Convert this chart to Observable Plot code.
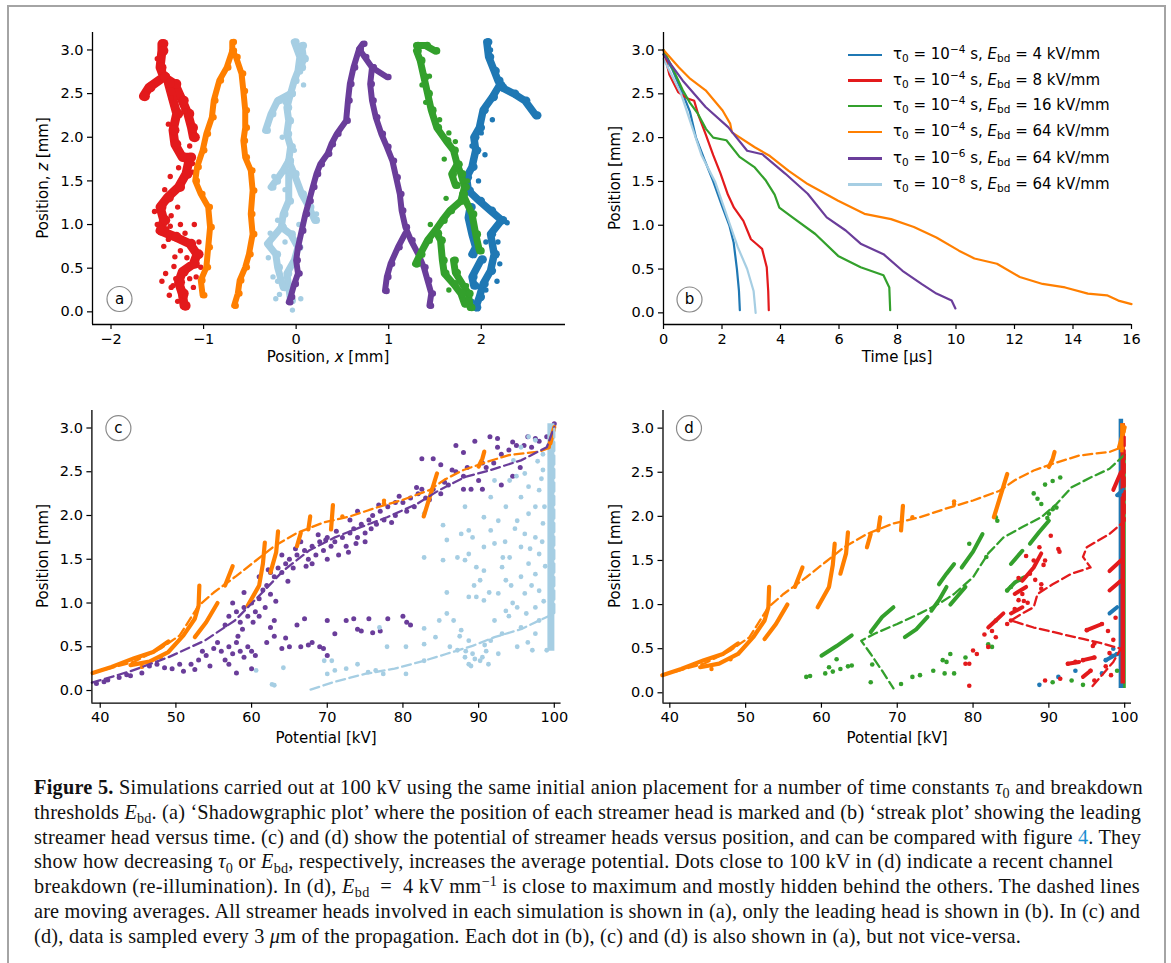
<!DOCTYPE html>
<html><head><meta charset="utf-8">
<script src="https://cdn.jsdelivr.net/npm/d3@7"></script>
<script src="https://cdn.jsdelivr.net/npm/@observablehq/plot@0.6"></script>
<style>
body{margin:0;background:#fff;}
#fig{position:relative;width:1171px;height:963px;background:#fff;overflow:hidden;}
#frame{position:absolute;left:7px;top:5px;width:1159px;height:980px;border:2px solid #a4a4a4;box-sizing:border-box;}
.panel{position:absolute;}
.lab{position:absolute;font-family:"DejaVu Sans",sans-serif;font-size:15px;white-space:nowrap;line-height:18px;}
.sw{position:absolute;width:34px;height:2.6px;}
.lt{position:absolute;left:893px;font-family:"DejaVu Sans",sans-serif;font-size:15px;white-space:nowrap;line-height:20px;}
.lt sub,.lt sup,.cap sub,.cap sup{font-size:70%;line-height:0;position:relative;vertical-align:baseline;}
.lt sub{top:0.3em;} .lt sup{top:-0.55em;}
.cap{position:absolute;left:34px;font-family:"Liberation Serif",serif;font-size:20.3px;white-space:nowrap;line-height:24px;color:#111;}
.cap sub{top:0.3em;} .cap sup{top:-0.5em;}
.blue{color:#1a8fd0;}
</style></head>
<body><div id="fig"><div id="frame"></div></div>
<script>
// ---------- colours (ColorBrewer Paired) ----------
const C = {blue:"#1f78b4", red:"#e31a1c", green:"#33a02c", orange:"#ff7f00", purple:"#6a3d9a", lblue:"#a6cee3"};

// ---------- panel (a): streamer trees, branches of [x mm, z mm] ----------
const aLightBlue = [
  [[-0.02,3.09],[0.04,2.92],[0.02,2.76],[-0.02,2.65],[-0.06,2.5],[-0.1,2.34],[-0.08,2.19],[-0.1,2.04],[-0.06,1.89],[-0.08,1.73],[-0.14,1.62],[-0.22,1.5],[-0.27,1.43]],
  [[0.06,3.05],[0.08,2.9],[0.05,2.8]],
  [[-0.06,2.5],[-0.2,2.42],[-0.27,2.27],[-0.33,2.08]],
  [[-0.08,1.73],[-0.02,1.58],[0.06,1.35],[0.14,1.2],[0.2,1.05]],
  [[-0.08,1.6],[-0.08,1.27],[-0.14,1.12],[-0.16,0.97],[-0.06,0.89],[0.02,0.74],[-0.02,0.59],[-0.1,0.44],[-0.08,0.28],[-0.06,0.13]],
  [[-0.16,0.97],[-0.31,0.78],[-0.22,0.66],[-0.2,0.51],[-0.14,0.28]]
];
const aLightBlueDots = [[-0.04,0.02],[-0.22,0.15],[-0.3,0.62],[-0.25,0.4],[0.1,1.3],[-0.24,1.55],[-0.3,2.15],[0.05,0.15],[-0.18,0.2],[0.22,1.12],[-0.12,0.8],[-0.2,1.05],[0.03,1.0],[-0.12,1.4],[-0.02,1.85],[-0.15,2.0],[0.08,2.6],[-0.12,2.4],[-0.28,0.9],[-0.2,0.35]];
const aRed = [
  [[-1.45,3.07],[-1.45,2.99],[-1.47,2.8],[-1.43,2.69],[-1.59,2.57],[-1.65,2.47]],
  [[-1.43,2.69],[-1.31,2.61],[-1.23,2.42],[-1.17,2.27],[-1.13,2.11],[-1.11,2.0]],
  [[-1.38,2.62],[-1.29,2.27],[-1.33,2.08],[-1.31,1.92],[-1.23,1.77],[-1.15,1.77],[-1.19,1.58],[-1.27,1.43],[-1.39,1.31],[-1.47,1.2],[-1.43,1.05],[-1.47,0.93],[-1.31,0.86],[-1.15,0.78],[-1.07,0.66],[-1.11,0.55],[-1.23,0.46],[-1.27,0.34],[-1.23,0.21],[-1.21,0.07]]
];
const aRedDots = [[-1.41,0.44],[-1.35,0.28],[-1.37,0.19],[-1.11,0.28],[-1.03,0.51],[-1.31,0.63],[-1.43,0.75],[-1.5,1.0],[-1.35,1.1],[-1.25,1.0],[-1.2,0.9],[-1.1,1.0],[-1.36,1.55],[-1.12,1.6],[-1.15,1.9],[-1.38,2.15],[-1.2,2.3],[-1.3,0.38],[-1.15,0.38],[-1.45,0.35],[-1.28,0.12],[-1.05,0.8],[-1.18,0.62],[-1.38,0.83],[-1.53,1.15],[-1.42,1.4],[-1.32,0.52],[-1.2,0.18],[-1.4,0.95],[-1.28,1.2],[-1.33,0.3],[-1.18,0.48],[-1.08,0.4],[-1.25,0.7],[-1.36,0.98],[-1.12,1.7],[-1.27,1.65],[-1.35,2.45],[-1.5,2.9]];
const aOrange = [
  [[-0.69,3.09],[-0.69,2.99],[-0.75,2.8],[-0.83,2.65],[-0.89,2.42],[-0.91,2.23],[-0.97,2.04],[-1.01,1.85],[-1.07,1.66],[-1.09,1.5],[-1.03,1.35],[-0.95,1.2],[-0.93,0.97],[-0.95,0.74],[-0.97,0.51],[-1.03,0.36],[-1.01,0.19]],
  [[-0.69,2.99],[-0.65,2.92],[-0.59,2.73],[-0.57,2.53],[-0.55,2.31],[-0.55,2.11],[-0.57,1.96],[-0.55,1.77],[-0.49,1.62],[-0.47,1.39],[-0.49,1.12],[-0.47,0.89],[-0.51,0.66],[-0.55,0.51],[-0.61,0.36],[-0.63,0.21],[-0.67,0.07]]
];
const aPurple = [
  [[0.72,3.07],[0.68,3.01],[0.62,2.8],[0.58,2.61],[0.56,2.42],[0.54,2.19],[0.44,2.04],[0.38,1.92],[0.34,1.81],[0.26,1.69],[0.22,1.58],[0.18,1.43],[0.14,1.27],[0.1,1.12],[0.06,0.93],[0.02,0.74],[0.0,0.59],[0.02,0.44],[-0.02,0.32],[-0.06,0.17],[-0.08,0.11]],
  [[0.68,3.01],[0.74,2.92],[0.82,2.8],[0.98,2.69]],
  [[0.82,2.8],[0.8,2.61],[0.82,2.42],[0.86,2.23],[0.92,2.04],[0.98,1.89],[1.04,1.73],[1.08,1.54],[1.12,1.35],[1.14,1.16],[1.18,0.97],[1.24,0.82],[1.32,0.66],[1.38,0.51],[1.42,0.36],[1.46,0.21],[1.44,0.07]],
  [[1.18,0.9],[1.1,0.74],[1.02,0.55],[0.98,0.4],[0.96,0.24]]
];
const aGreen = [
  [[1.3,3.05],[1.4,3.05],[1.5,2.99]],
  [[1.3,2.99],[1.34,2.88],[1.38,2.69],[1.42,2.5],[1.46,2.31],[1.52,2.11],[1.62,1.96],[1.7,1.85],[1.74,1.69],[1.78,1.58],[1.82,1.43],[1.78,1.27],[1.66,1.16],[1.58,1.05],[1.5,0.93],[1.42,0.82],[1.34,0.66],[1.29,0.55]],
  [[1.8,1.35],[1.9,1.12],[1.94,0.89],[1.98,0.7]],
  [[1.52,0.9],[1.56,0.82],[1.58,0.59],[1.6,0.44],[1.7,0.32],[1.78,0.21],[1.82,0.09]],
  [[1.7,0.59],[1.72,0.45],[1.86,0.21],[1.88,0.05]],
  [[1.74,1.69],[1.68,1.58],[1.72,1.45]]
];
const aGreenDots = [[1.36,2.6],[1.44,2.7],[1.4,2.4],[1.55,2.2],[1.65,2.05],[1.72,1.95],[1.6,1.75],[1.85,1.5],[1.62,1.3],[1.45,1.0],[1.75,0.45],[1.65,0.25],[1.84,0.3]];
const aBlue = [
  [[2.06,3.09],[2.08,2.92],[2.14,2.76],[2.18,2.65],[2.22,2.57],[2.35,2.5],[2.47,2.42],[2.59,2.25]],
  [[2.2,2.6],[2.12,2.46],[2.02,2.31],[1.98,2.11],[1.92,2.0],[1.94,1.85],[1.9,1.66],[1.84,1.54],[1.86,1.39],[1.98,1.27],[2.1,1.16],[2.22,1.05],[2.1,0.89],[2.14,0.66],[2.1,0.47],[2.02,0.32],[1.98,0.17],[1.94,0.05]],
  [[1.88,1.2],[1.86,1.08],[1.9,0.89],[1.94,0.74],[1.9,0.66]],
  [[2.0,0.6],[1.9,0.4],[1.92,0.3]]
];
const aBlueDots = [[2.0,2.05],[1.9,1.9],[2.04,1.8],[1.97,1.5],[2.18,0.8],[2.05,0.8],[2.2,0.55],[2.05,0.25],[1.9,0.12],[2.17,0.35],[2.28,1.02],[2.12,2.2],[2.1,3.0]];

// ---------- panel (b): leading head, [time µs, z mm] ----------
const bBlue   = [[0,2.95],[0.3,2.78],[0.66,2.5],[0.9,2.3],[1.11,2.0],[1.4,1.75],[1.7,1.5],[2.0,1.22],[2.25,1.0],[2.4,0.8],[2.51,0.5],[2.58,0.25],[2.61,0.03]];
const bRed    = [[0,3.0],[0.2,2.72],[0.5,2.52],[0.8,2.45],[1.05,2.42],[1.2,2.25],[1.44,2.04],[1.7,1.8],[1.95,1.59],[2.2,1.35],[2.41,1.2],[2.73,1.05],[2.99,0.84],[3.2,0.78],[3.37,0.73],[3.53,0.52],[3.58,0.25],[3.6,0.03]];
const bGreen  = [[0,3.0],[0.3,2.8],[0.66,2.54],[0.9,2.4],[1.18,2.27],[1.45,2.1],[1.7,2.0],[2.15,1.97],[2.6,1.78],[3.12,1.66],[3.5,1.51],[3.8,1.35],[3.96,1.2],[4.41,1.09],[5.19,0.9],[5.97,0.65],[6.74,0.52],[7.52,0.43],[7.72,0.29],[7.75,0.03]];
const bOrange = [[0,3.0],[0.53,2.8],[0.92,2.67],[1.44,2.54],[2.02,2.31],[2.28,2.16],[2.34,2.06],[3.12,1.89],[3.64,1.79],[4.28,1.62],[4.93,1.47],[5.97,1.28],[6.87,1.13],[7.78,1.07],[8.56,0.98],[9.33,0.86],[10.1,0.71],[10.63,0.62],[11.4,0.56],[12.18,0.41],[12.96,0.33],[13.73,0.29],[14.51,0.22],[15.16,0.2],[15.55,0.14],[16.0,0.1]];
const bPurple = [[0,2.95],[0.66,2.65],[1.44,2.35],[2.21,2.12],[2.86,1.85],[3.38,1.81],[4.16,1.59],[4.93,1.36],[5.58,1.09],[6.23,0.94],[6.74,0.79],[7.52,0.67],[8.17,0.48],[8.82,0.33],[9.33,0.22],[9.85,0.14],[9.98,0.05]];
const bLightBlue = [[0,2.9],[0.3,2.7],[0.6,2.5],[1.0,2.1],[1.3,1.8],[1.76,1.5],[2.05,1.22],[2.28,1.0],[2.54,0.75],[2.86,0.5],[3.08,0.25],[3.15,0.0]];
const legendLabels = [
  ["−4","4"],["−4","8"],["−4","16"],["−4","64"],["−6","64"],["−8","64"]
];

// ---------- panels (c),(d): potential kV vs position mm ----------
const orangeStreaks = [
  [[39,0.2],[41.5,0.27],[44.5,0.37],[47,0.44],[49,0.56]],
  [[44,0.29],[46.5,0.33],[49,0.44],[51,0.63],[52.5,0.82],[53,0.97],[53.1,1.2]],
  [[52.5,0.61],[54,0.78],[55.5,1.0]],
  [[56.5,1.2],[57.5,1.42]],
  [[59.5,0.97],[61,1.2],[61.5,1.45],[61.75,1.69]],
  [[62.5,1.35],[63.25,1.58],[63.5,1.82]],
  [[66,1.65],[66.5,1.8]],
  [[67.5,1.84],[67.75,1.99]],
  [[70.5,1.84],[70.75,2.12]],
  [[82.75,1.99],[84.5,2.48]],
  [[90,2.56],[90.5,2.65],[90.75,2.73]],
  [[99.25,2.78],[100,3.01]]
];
const orangeDots = [[72,1.99],[77.5,2.14],[77.5,2.17],[45.5,0.27],[48,0.38]];
const orangeAvg = [[39,0.2],[44.5,0.33],[48,0.48],[50.5,0.63],[53,0.97],[55,1.12],[58,1.31],[60.5,1.48],[63,1.65],[66,1.8],[69.5,1.92],[73,1.99],[76.5,2.09],[80,2.18],[83.5,2.29],[85.5,2.41],[88,2.52],[91,2.61],[94,2.69],[98,2.73],[99.5,2.78],[100,2.97]];

const cPurpleDots = [
  [39.5,0.08],[40.5,0.1],[41,0.12],[42.5,0.15],[43.5,0.18],[44,0.17],[45.5,0.2],[46.5,0.28],[47.5,0.3],[48.5,0.26],[49.5,0.25],[50.5,0.3],[51,0.22],[52,0.3],[52.5,0.24],[53,0.35],[53.5,0.45],[54,0.4],[55,0.48],[55.5,0.55],[56,0.45],[57,0.5],[57.5,0.42],[58,0.55],[58.5,0.45],[59,0.38],[59.5,0.5],[60,0.45],[60.5,0.4],[54.5,0.28],[56.5,0.35],[58.2,0.62],
  [56.5,0.75],[57,0.85],[58,0.9],[58.5,0.78],[59,0.95],[59.5,0.85],[60,1.0],[60.5,0.9],[61,1.05],[61.5,1.15],[62,1.2],[62.5,1.1],[63,1.3],[63.5,1.4],[64,1.35],[64.5,1.45],[65,1.5],[65.5,1.4],[66,1.55],[67,1.6],[67.5,1.5],[68,1.65],[68.5,1.55],[69,1.7],[69.5,1.6],[70,1.5],[70.5,1.65],[71,1.7],[72,1.75],[72.5,1.65],[73,1.8],[73.5,1.85],[74,1.75],[74.5,1.9],[75,1.8],[75.5,1.95],[76,2.0],[76.5,1.9],[77,2.05],[78,2.1],[79,2.0],[80,2.15],[81,2.2],[81.5,2.1],[82,2.25],[83,2.2],[84,2.3],[85,2.25],[86,2.35],[87,2.5],[88,2.45],[89,2.3],[90,2.4],[91,2.55],[92,2.6],[93,2.7],[94,2.75],[95,2.8],[96,2.8],[97,2.78],[98,2.85],[99,2.9],[100,3.05],
  [57.5,1.0],[59,1.12],[61,1.3],[62.5,1.35],[64,1.55],[66.5,1.7],[68,1.45],[70,1.75],[71.5,1.55],[73,1.95],[74,2.05],[75,1.7],[77.5,1.95],[79,2.15],[80.5,2.05],[82.5,2.3],
  [58.8,0.7],[60.2,0.78],[61.8,0.95],[63.2,1.02],[62.2,1.38],[64.8,1.25],[65.8,1.62],[67.2,1.42],[68.8,1.78],[69.8,1.72],[71.2,1.82],[72.8,1.58],[73.8,1.68],[75.8,1.85],[76.8,2.12],[78.5,1.92],[79.5,2.22],[81.8,2.32],[83.5,2.18],[85.5,2.38],[86.5,2.52],[88.5,2.55],[90.5,2.6],[92.5,2.78],[94.5,2.84],[96.5,2.9],[97.5,2.88],
  [82.5,2.65],[84,2.65],[85,2.58],[87,2.8],[88,2.72],[89.5,2.85],[91.5,2.9],[92.5,2.88],[90.5,2.3],[93,2.35],[88,2.3],[95.5,2.55],[94.5,2.45],
  [61,0.85],[62.5,0.72],[63,0.8],[64.5,0.6],[66,0.75],[67,0.82],[68,0.55],[69,0.5],[70,0.8],[71,0.65],[72.5,0.8],[73.5,0.82],[74,0.7],[75.5,0.82],[76,0.66],[77,0.68],[78,0.82],[80,0.85],[81,0.75],[65,0.5],[66.5,0.5],[69.5,0.48],[70,0.4],[62,0.55],[64,0.48],[60,0.25],[57,0.3],[58,0.2],[63,0.62],[67.5,0.52],[74.5,0.68],[80.5,0.78]
];
const cPurpleAvg = [[38.9,0.09],[44,0.22],[49,0.38],[53.8,0.57],[57.8,0.8],[61.2,1.1],[64.2,1.37],[67.6,1.6],[71,1.75],[74.5,1.87],[77.9,1.98],[81.8,2.13],[84.8,2.29],[88.2,2.44],[91.6,2.52],[95.6,2.63],[99,2.78],[100,3.01]];
const cLightBlueDots = [
  [62.7,0.07],[63,0.06],[60.6,0.23],[64.2,0.26],[70,0.19],[71,0.23],[72.5,0.25],[74,0.3],[75.4,0.21],[76.4,0.23],[77.4,0.19],[80.4,0.19],[69.6,0.34],[70.6,0.34],
  [77.9,0.5],[80.4,0.5],[76.9,0.72],[82.8,0.34],[82.8,0.53],[82.8,0.71],[84.3,0.61],[84.8,0.8],[85.8,1.12],[85.3,1.49],[82.8,1.52],[85.3,1.89],[82.8,2.02],[85.8,1.72],
  [86.2,0.5],[87.2,0.46],[88.2,0.38],[88.7,0.3],[89.2,0.42],[90.2,0.34],[88.7,0.57],[87.7,0.69],[86.7,0.8],[85.8,0.88],[89,0.28],[90.5,0.38],[91,0.45],
  [87.7,1.79],[88.7,1.83],[89.2,1.75],[88.2,2.1],[88.7,1.07],[89.7,1.07],[90.7,1.03],[90.2,1.26],[90.7,1.37],[88.2,1.49],[88.7,1.56],[87.2,1.52],[89.7,1.41],
  [90.7,1.64],[90.7,1.98],[91.6,1.83],[92.1,1.68],[91.6,2.21],[92.1,2.4],
  [92.1,0.8],[91.6,0.57],[92.6,0.42],[93.1,0.65],[93.6,0.91],[92.6,1.11],[93.6,1.26],[93.1,1.41],[94.1,1.52],[92.6,1.94],[93.6,2.1],[94.1,2.4],[94.6,2.63],
  [95.1,0.5],[95.6,0.72],[95.1,0.95],[96.1,1.11],[95.6,1.3],[96.6,1.45],[95.6,1.64],[96.1,1.79],[95.1,1.94],[96.6,2.02],[95.6,2.21],[96.6,2.33],[96.1,2.48],[95.6,2.78],
  [97.1,0.46],[97.5,0.65],[98,0.8],[97.5,0.95],[98,1.14],[97.5,1.33],[98,1.56],[97.5,1.75],[98.5,1.91],[97.5,2.1],[98,2.29],[98.5,2.52],[97.5,2.86],[99,0.46],[96.6,2.9],
  [94,0.85],[94.5,1.0],[96.5,0.55],[93.5,1.7],[94.8,1.85],[97,1.2],[96.8,1.62],[98.5,2.7],[95,2.45],
  [89.5,0.36],[88.3,0.45],[90.8,0.52],[91.3,0.3],[87.5,0.62],[98.6,1.02],[98.8,1.42],[98.4,1.7],[98.7,2.1],[98.3,2.42],[97.8,2.62],[96.3,0.88],[94.3,1.2],[93.2,1.52],[91.4,1.12],[89.4,1.2]
];
const cLightBlueAvg = [[67.8,0.01],[71,0.1],[75,0.19],[78.9,0.25],[82.8,0.34],[85.8,0.42],[89.2,0.51],[92.1,0.61],[95.6,0.7],[98,0.8],[100,0.88],[100,3.0]];
// dense columns of dots at ~100 kV: [kV, z from, z to, colour]
const cColumns = [[99.55,0.45,3.05,"lblue"]];

const dGreenDots = [
  [58,0.18],[58.5,0.19],[60.5,0.22],[61.5,0.24],[62.5,0.27],[63.5,0.3],[64,0.31],[61,0.29],[62,0.38],
  [66.5,0.12],[70.5,0.1],[72,0.18],[73,0.2],[74.75,0.25],[76.25,0.22],[77.5,0.22],[76,0.37],[77,0.44],[79,0.4],[82,0.55],[82.5,0.52],[83,0.82],[84.5,1.16],[90.5,0.12],[93,0.14],[94.5,0.09],[99,0.25],[66.7,0.32],[76.5,0.35],
  [83,1.99],[83.2,1.95],[88,2.26],[88.5,2.2],[89,2.14],[89.5,2.36],[90.5,2.4],[91.5,2.44],[90,2.03],[90.5,2.08],[91,2.1],[89.8,1.98],[81.75,1.54],[79.5,1.69],[85,1.2],[86.2,1.28]
];
const dGreenStreaks = [
  [[60,0.42],[62,0.53],[64,0.65]],
  [[66.5,0.69],[68,0.86],[69.5,0.97]],
  [[71,0.63],[72.5,0.72],[74,0.86]],
  [[75.5,1.23],[76.5,1.35],[77.5,1.46]],
  [[74.5,0.93],[75.5,1.05],[76.5,1.2]],
  [[77,1.0],[78,1.1],[79,1.2]],
  [[78.5,1.42],[80,1.6],[81.25,1.8]],
  [[84.5,1.16],[85.5,1.25],[86.75,1.31]],
  [[85,1.46],[86.5,1.61]],
  [[87.5,1.69],[88.7,1.82],[90,1.95]]
];
const dGreenAvg = [[100,2.7],[98,2.54],[95.5,2.44],[93,2.33],[91,2.14],[89,1.99],[86.5,1.88],[84,1.76],[82,1.58],[80,1.31],[77.5,1.12],[75.5,1.01],[73,0.9],[70,0.78],[67,0.67],[65.25,0.59],[66.5,0.44],[68,0.25],[69.5,0.05]];
const dRedDots = [
  [79.5,0.08],[79,0.33],[79.5,0.33],[80,0.48],[80.5,0.44],[82,0.52],[83,0.63],[85,0.82],[86,1.05],[86.7,1.04],[87.5,1.35],[88.75,1.65],[89,1.23],[89,1.18],[90.25,1.78],[91.25,1.63],[91.4,1.6],[89.5,1.5],
  [92.5,0.33],[93.5,0.35],[91.5,0.16],[89.5,0.14],[95.5,0.25],[96,0.14],[95,0.71],[96,0.56],[95.8,0.53],[94.5,0.37],[96,0.4],[97,0.78],[97.5,0.3],[98,0.45],
  [81.5,0.66],[82.5,0.7],[84.5,0.78],[85.5,0.95],[86.5,1.12],[87.2,1.02],[88.2,1.28],[87,1.55],[88,1.5],[89.3,1.45],[86,1.3],[98.5,0.6],[97.8,0.7],[98.8,0.85],[98.2,0.2]
];
const dRedStreaks = [
  [[82,0.74],[83,0.82],[84,0.9]],
  [[85,0.9],[86.5,0.97]],
  [[85.5,1.12],[87,1.2]],
  [[86.5,1.27],[88,1.42],[89,1.58]],
  [[92.5,0.33],[94,0.35]],
  [[94.5,0.37],[96,0.4]],
  [[95,0.71],[97,0.78]],
  [[94.5,0.18],[95.5,0.25]],
  [[98,1.16],[99.5,1.27]],
  [[98,1.38],[99.5,1.5]],
  [[98.5,2.3],[99.5,2.5]]
];
const dRedAvg = [[100,2.9],[100,1.95],[98,1.8],[95,1.65],[94.5,1.54],[95.5,1.42],[93,1.35],[90.5,1.23],[88.5,1.12],[88,0.97],[86.5,0.9],[85,0.82],[88,0.74],[91.5,0.67],[94.5,0.61],[97,0.56],[99.5,0.5],[98.5,0.35],[97,0.2],[95.5,0.05]];
const dBlueDots = [[88.75,0.09],[91.25,0.18],[93.5,0.25],[97,0.22],[97.5,0.37],[98.3,0.42],[98.5,0.5],[99,0.44],[99.3,2.24]];
const dBlueStreaks = [
  [[98,0.9],[99,0.97]],
  [[97.5,0.37],[99,0.44]],
  [[99,2.24],[99.8,2.3]]
];
const dColumns = [[99.85,0.05,2.7,"green"],[99.5,0.05,3.1,"blue"],[99.75,0.1,3.05,"red"],[99.7,2.72,3.05,"orange"]];

// ---------- helpers ----------
const rows = (arr) => arr.map(([x, y]) => ({x, y}));
const branchRows = (branches) => branches.flatMap((b, i) => b.map(([x, y]) => ({x, y, k: i})));
const minus = (d) => (d < 0 ? "\u2212" + Math.abs(d) : String(d));
const f1 = d3.format(".1f");
const yTicks = [0, 0.5, 1, 1.5, 2, 2.5, 3];

function makePanel(o) {
  const marks = [
    ...o.marks,
    Plot.ruleX([o.xd[0]], {stroke: "#000", strokeWidth: 1.3}),
    Plot.ruleY([o.yd[0]], {stroke: "#000", strokeWidth: 1.3}),
    Plot.axisX({ticks: o.xt, tickFormat: minus, tickSize: 5, tickPadding: 4, label: null, strokeWidth: 1.2}),
    Plot.axisY({ticks: yTicks, tickFormat: f1, tickSize: 5, tickPadding: 4, label: null, strokeWidth: 1.2}),
    Plot.dot([o.letter], {frameAnchor: o.anchor, dx: o.dx, dy: o.dy, r: 12.5, stroke: "#8a8a8a", strokeWidth: 1.2, fill: "none"}),
    Plot.text([o.letter], {frameAnchor: o.anchor, dx: o.dx, dy: o.dy, text: (d) => d, fontSize: 15, textAnchor: "middle", lineAnchor: "middle"})
  ];
  const svg = Plot.plot({
    width: o.w, height: o.h,
    marginLeft: o.ml, marginRight: o.mr, marginTop: o.mt, marginBottom: o.mb,
    style: {fontFamily: "DejaVu Sans, sans-serif", fontSize: "14.5px", color: "#000", background: "transparent", overflow: "visible"},
    x: {domain: o.xd}, y: {domain: o.yd},
    marks
  });
  svg.classList.add("panel");
  svg.style.left = o.left + "px";
  svg.style.top = o.top + "px";
  document.getElementById("fig").appendChild(svg);
}
function label(html, cx, cy, rot) {
  const d = document.createElement("div");
  d.className = "lab";
  d.innerHTML = html;
  d.style.left = cx + "px"; d.style.top = cy + "px";
  d.style.transform = "translate(-50%,-50%)" + (rot ? " rotate(-90deg)" : "");
  document.getElementById("fig").appendChild(d);
}

const stream = (br, color, w) => [
  Plot.line(branchRows(br), {x: "x", y: "y", z: "k", stroke: color, strokeWidth: w, strokeLinecap: "round", strokeLinejoin: "round"}),
  Plot.dot(branchRows(br), {x: "x", y: "y", r: w * 0.55, fill: color, dx: 1.5})
];
const scatter = (arr, color, r = 2.1) => Plot.dot(rows(arr), {x: "x", y: "y", r, fill: color});
const dashed = (arr, color) => Plot.line(rows(arr), {x: "x", y: "y", stroke: color, strokeWidth: 2.3, strokeDasharray: "9,4.5"});
const columns = (arr, w) => Plot.ruleX(arr.map(([x, y1, y2, c]) => ({x, y1, y2, c})), {x: "x", y1: "y1", y2: "y2", stroke: (d) => C[d.c], strokeWidth: w});

// ---------- (a) ----------
makePanel({
  left: 0, top: 0, w: 580, h: 370, ml: 92, mr: 15, mt: 32, mb: 46,
  xd: [-2.2, 2.91], yd: [-0.145, 3.2], xt: [-2, -1, 0, 1, 2],
  letter: "a", anchor: "bottom-left", dx: 27, dy: -25.5,
  marks: [
    ...stream(aLightBlue, C.lblue, 7), scatter(aLightBlueDots, C.lblue, 2.7),
    ...stream(aRed, C.red, 9), scatter(aRedDots, C.red, 2.7),
    ...stream(aOrange, C.orange, 6),
    ...stream(aPurple, C.purple, 6),
    ...stream(aBlue, C.blue, 7.5), scatter(aBlueDots, C.blue, 2.7),
    ...stream(aGreen, C.green, 7), scatter(aGreenDots, C.green, 2.7)
  ]
});
label("Position, <i>x</i> [mm]", 328, 357, false);
label("Position, <i>z</i> [mm]", 42.5, 178, true);

// ---------- (b) ----------
const bSeries = [[bBlue, C.blue], [bRed, C.red], [bGreen, C.green], [bOrange, C.orange], [bPurple, C.purple], [bLightBlue, C.lblue]];
makePanel({
  left: 580, top: 0, w: 580, h: 370, ml: 83, mr: 29, mt: 32, mb: 46,
  xd: [0, 16], yd: [-0.133, 3.2], xt: [0, 2, 4, 6, 8, 10, 12, 14, 16],
  letter: "b", anchor: "bottom-left", dx: 26, dy: -25,
  marks: bSeries.map(([s, c]) => Plot.line(rows(s), {x: "x", y: "y", stroke: c, strokeWidth: 2.2}))
});
label("Time [µs]", 897, 357, false);
label("Position [mm]", 615, 178, true);

const legColors = [C.blue, C.red, C.green, C.orange, C.purple, C.lblue];
const legY = [55, 80.5, 106, 132, 158.5, 184.5];
legendLabels.forEach(([e, v], i) => {
  const fig = document.getElementById("fig");
  const sw = document.createElement("div");
  sw.className = "sw"; sw.style.left = "848px"; sw.style.top = (legY[i] - 1.3) + "px"; sw.style.background = legColors[i];
  fig.appendChild(sw);
  const t = document.createElement("div");
  t.className = "lt"; t.style.top = (legY[i] - 11) + "px";
  t.innerHTML = `τ<sub>0</sub> = 10<sup>${e}</sup> s, <i>E</i><sub>bd</sub> = ${v} kV/mm`;
  fig.appendChild(t);
});

// ---------- (c) ----------
const oStreakMarks = (w) => [
  Plot.line(branchRows(orangeStreaks), {x: "x", y: "y", z: "k", stroke: C.orange, strokeWidth: w, strokeLinecap: "round"}),
  scatter(orangeDots, C.orange, 2.2)
];
makePanel({
  left: 0, top: 380, w: 580, h: 380, ml: 91.4, mr: 19.4, mt: 30, mb: 57.3,
  xd: [38.9, 100.9], yd: [-0.145, 3.2], xt: [40, 50, 60, 70, 80, 90, 100],
  letter: "c", anchor: "top-left", dx: 26.5, dy: 17.7,
  marks: [
    scatter(cPurpleDots, C.purple, 2.5),
    columns(cColumns, 7),
    scatter(cLightBlueDots, C.lblue, 2.4),
    ...oStreakMarks(4.2),
    dashed(orangeAvg, C.orange),
    dashed(cPurpleAvg, C.purple),
    dashed(cLightBlueAvg, C.lblue)
  ]
});
label("Potential [kV]", 326, 738, false);
label("Position [mm]", 42.5, 556, true);

// ---------- (d) ----------
makePanel({
  left: 580, top: 380, w: 580, h: 380, ml: 82.5, mr: 29, mt: 30, mb: 57.3,
  xd: [39.1, 100.9], yd: [-0.118, 3.2], xt: [40, 50, 60, 70, 80, 90, 100],
  letter: "d", anchor: "top-left", dx: 26, dy: 17.7,
  marks: [
    columns(dColumns, 4.5),
    scatter(dBlueDots, C.blue, 2.3),
    Plot.line(branchRows(dBlueStreaks), {x: "x", y: "y", z: "k", stroke: C.blue, strokeWidth: 4, strokeLinecap: "round"}),
    scatter(dGreenDots, C.green, 2.3),
    Plot.line(branchRows(dGreenStreaks), {x: "x", y: "y", z: "k", stroke: C.green, strokeWidth: 4, strokeLinecap: "round"}),
    scatter(dRedDots, C.red, 2.3),
    Plot.line(branchRows(dRedStreaks), {x: "x", y: "y", z: "k", stroke: C.red, strokeWidth: 4, strokeLinecap: "round"}),
    ...oStreakMarks(4.2),
    dashed(orangeAvg, C.orange),
    dashed(dGreenAvg, C.green),
    dashed(dRedAvg, C.red)
  ]
});
label("Potential [kV]", 897, 738, false);
label("Position [mm]", 615, 556, true);

// ---------- caption ----------
const captionLines = [
  `<b>Figure 5.</b> Simulations carried out at 100 kV using the same initial anion placement for a number of time constants <i>τ</i><sub>0</sub> and breakdown`,
  `thresholds <i>E</i><sub>bd</sub>. (a) ‘Shadowgraphic plot’ where the position of each streamer head is marked and (b) ‘streak plot’ showing the leading`,
  `streamer head versus time. (c) and (d) show the potential of streamer heads versus position, and can be compared with figure <span class="blue">4</span>. They`,
  `show how decreasing <i>τ</i><sub>0</sub> or <i>E</i><sub>bd</sub>, respectively, increases the average potential. Dots close to 100 kV in (d) indicate a recent channel`,
  `breakdown (re-illumination). In (d), <i>E</i><sub>bd</sub>&nbsp; = &nbsp;4 kV mm<sup>−1</sup> is close to maximum and mostly hidden behind the others. The dashed lines`,
  `are moving averages. All streamer heads involved in each simulation is shown in (a), only the leading head is shown in (b). In (c) and`,
  `(d), data is sampled every 3 <i>μ</i>m of the propagation. Each dot in (b), (c) and (d) is also shown in (a), but not vice-versa.`
];
// right ends of the full (fitted) lines; null = natural last/short line
const captionEnds = [1143, 1141, 1141, null, 1140, 1140, null];
const capDivs = captionLines.map((h, i) => {
  const d = document.createElement("div");
  d.className = "cap";
  d.style.top = (787 + i * 24.8 - 12) + "px";
  d.innerHTML = h;
  document.getElementById("fig").appendChild(d);
  return d;
});
const spacings = [];
capDivs.forEach((d, i) => {
  if (captionEnds[i] == null) return;
  const w = d.getBoundingClientRect().width;
  const s = (captionEnds[i] - 34 - w) / d.textContent.length;
  d.style.letterSpacing = s + "px";
  spacings.push(s);
});
const meanS = d3.mean(spacings);
capDivs.forEach((d, i) => { if (captionEnds[i] == null) d.style.letterSpacing = meanS + "px"; });
</script>
</body></html>
